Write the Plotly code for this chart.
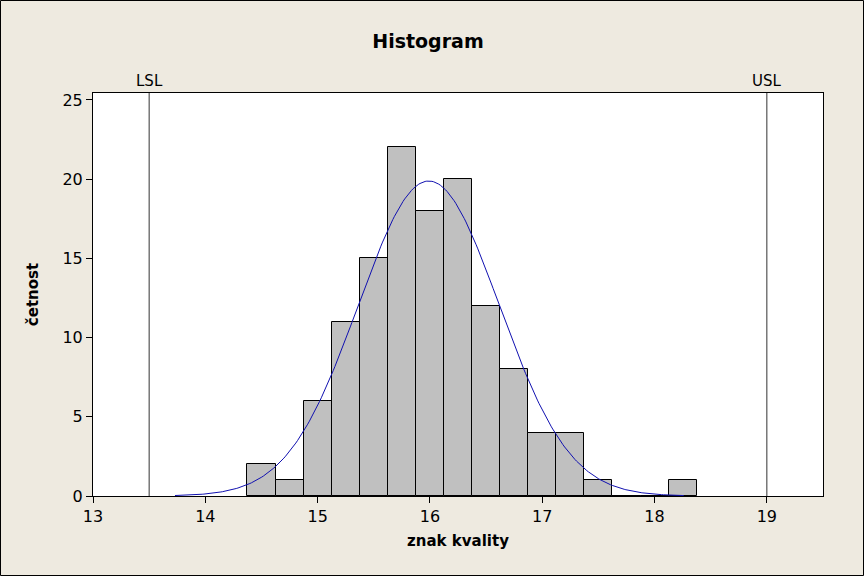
import numpy as np
import plotly.graph_objects as go

# Data
bin_centers = [14.5, 14.75, 15.0, 15.25, 15.5, 15.75, 16.0, 16.25, 16.5, 16.75, 17.0, 17.25, 17.5, 17.75, 18.0, 18.25]
counts      = [2, 1, 6, 11, 15, 22, 18, 20, 12, 8, 4, 4, 1, 0, 0, 1]
bin_width = 0.25
fit_mean = 15.99
fit_sigma = 0.627
curve_start = 13.73
curve_end = 18.26
lsl = 13.5
usl = 19.0
x_ticks = [13, 14, 15, 16, 17, 18, 19]
y_ticks = [0, 5, 10, 15, 20, 25]
y_max = 25.44

n_total = sum(counts)
xc = np.linspace(curve_start, curve_end, 300)
yc = n_total * bin_width / (fit_sigma * np.sqrt(2 * np.pi)) * np.exp(-0.5 * ((xc - fit_mean) / fit_sigma) ** 2)

fig = go.Figure()
fig.add_trace(go.Bar(
    x=bin_centers, y=counts, width=bin_width,
    marker=dict(color="#C0C0C0", line=dict(color="black", width=1)),
    hoverinfo="x+y", showlegend=False,
))
fig.add_trace(go.Scatter(
    x=xc, y=yc, mode="lines", line=dict(color="#1010B0", width=1),
    showlegend=False, hoverinfo="skip",
))

for val, name in [(lsl, "LSL"), (usl, "USL")]:
    fig.add_shape(type="line", xref="x", yref="y", x0=val, x1=val, y0=0, y1=y_max,
                  line=dict(color="#333333", width=1), layer="above")
    fig.add_annotation(x=val, y=1.0, xref="x", yref="paper", text=name, showarrow=False,
                       yanchor="bottom", yshift=1, font=dict(family="DejaVu Sans", size=15, color="black"))

# outer border of the whole picture
W, H = 864, 576
ml, mr, mt, mb = 93, 41, 93, 80
pw, ph = W - ml - mr, H - mt - mb
fig.add_shape(type="rect", xref="paper", yref="paper",
              x0=(0.5 - ml) / pw, x1=(W - 0.5 - ml) / pw,
              y0=-(mb - 0.5) / ph, y1=(H - mb - 0.5) / ph,
              line=dict(color="black", width=1), fillcolor="rgba(0,0,0,0)", layer="below")

fig.update_layout(
    width=W, height=H,
    margin=dict(l=ml, r=mr, t=mt, b=mb),
    paper_bgcolor="#EEEAE0", plot_bgcolor="white",
    bargap=0,
    title=dict(text="<b>Histogram</b>", x=(428) / W, xanchor="center", y=1 - 41 / H, yanchor="middle",
               font=dict(family="DejaVu Sans", size=19, color="black")),
    font=dict(family="DejaVu Sans", color="black"),
    xaxis=dict(range=[13, 19.5], tickvals=x_ticks, ticks="outside", ticklen=6, tickcolor="black",
               showline=True, linecolor="black", linewidth=1, mirror=True, showgrid=False, zeroline=False,
               tickfont=dict(size=16),
               title=dict(text="<b>znak kvality</b>", font=dict(size=15), standoff=10)),
    yaxis=dict(range=[0, y_max], tickvals=y_ticks, ticks="outside", ticklen=6, tickcolor="black",
               showline=True, linecolor="black", linewidth=1, mirror=True, showgrid=False, zeroline=False,
               tickfont=dict(size=16),
               title=dict(text="<b>četnost</b>", font=dict(size=15), standoff=20)),
)

fig.write_html("out.html")
